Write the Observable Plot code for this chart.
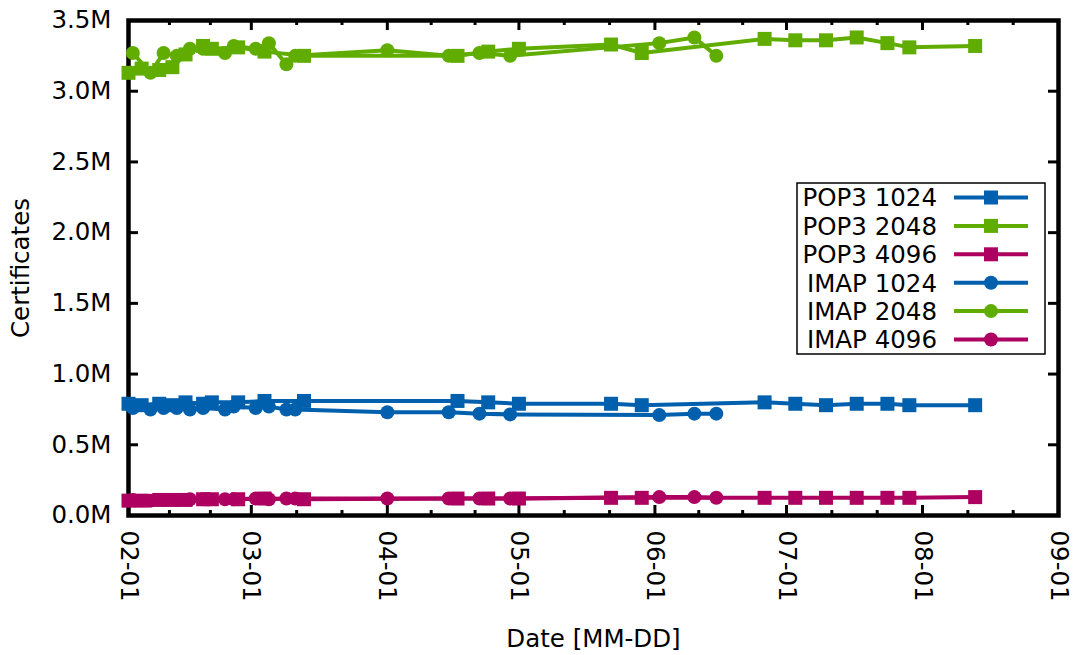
<!DOCTYPE html>
<html><head><meta charset="utf-8">
<script src="https://cdn.jsdelivr.net/npm/d3@7"></script>
<script src="https://cdn.jsdelivr.net/npm/@observablehq/plot@0.6"></script>
<style>
body{margin:0;background:#fff;}
svg{font-family:"DejaVu Sans",sans-serif;}
</style>
</head><body><div id="chart"></div>
<script>
// ---- data ----
const pop3Dates = ["2015-02-01","2015-02-04","2015-02-08","2015-02-11","2015-02-14","2015-02-18","2015-02-20","2015-02-26","2015-03-04","2015-03-13","2015-04-17","2015-04-24","2015-05-01","2015-05-22","2015-05-29","2015-06-26","2015-07-03","2015-07-10","2015-07-17","2015-07-24","2015-07-29","2015-08-13"];
const pop3_1024 = [0.79,0.78,0.79,0.78,0.80,0.79,0.80,0.80,0.81,0.81,0.81,0.80,0.79,0.79,0.78,0.80,0.79,0.78,0.79,0.79,0.78,0.78];
const pop3_2048 = [3.13,3.16,3.15,3.17,3.26,3.32,3.30,3.31,3.28,3.25,3.25,3.28,3.30,3.33,3.27,3.37,3.36,3.36,3.38,3.34,3.31,3.32];
const pop3_4096 = [0.105,0.105,0.11,0.11,0.11,0.115,0.115,0.115,0.12,0.115,0.12,0.12,0.12,0.125,0.125,0.125,0.125,0.125,0.125,0.125,0.125,0.13];
const imapDates = ["2015-02-02","2015-02-06","2015-02-09","2015-02-12","2015-02-15","2015-02-18","2015-02-23","2015-02-25","2015-03-02","2015-03-05","2015-03-09","2015-03-11","2015-04-01","2015-04-15","2015-04-22","2015-04-29","2015-06-02","2015-06-10","2015-06-15"];
const imap_1024 = [0.76,0.75,0.76,0.76,0.75,0.76,0.75,0.77,0.76,0.77,0.75,0.75,0.73,0.73,0.72,0.715,0.71,0.72,0.72];
const imap_2048 = [3.27,3.13,3.27,3.25,3.30,3.30,3.27,3.32,3.30,3.34,3.19,3.25,3.29,3.25,3.27,3.25,3.34,3.38,3.25];
const imap_4096 = [0.11,0.105,0.11,0.11,0.115,0.115,0.115,0.115,0.12,0.115,0.12,0.12,0.12,0.12,0.12,0.12,0.13,0.13,0.125];
const seriesNames = ["POP3 1024","POP3 2048","POP3 4096","IMAP 1024","IMAP 2048","IMAP 4096"];
const monthTickLabels = ["2015-02-01","2015-03-01","2015-04-01","2015-05-01","2015-06-01","2015-07-01","2015-08-01","2015-09-01"];
const yTickValues = [0,0.5,1.0,1.5,2.0,2.5,3.0,3.5];

// ---- styling ----
const colorOf = {"1024":"#0060ad","2048":"#60ad00","4096":"#ad0060"};
const W = 1073, H = 655, mL = 128, mR = 15, mT = 20, mB = 140;
const innerW = W - mL - mR, innerH = H - mT - mB;
const FS = 24.5;

const parse = d3.utcParse("%Y-%m-%d");
const seriesDefs = [
  {name: seriesNames[0], dates: pop3Dates, vals: pop3_1024, bits: "1024", sym: "square"},
  {name: seriesNames[1], dates: pop3Dates, vals: pop3_2048, bits: "2048", sym: "square"},
  {name: seriesNames[2], dates: pop3Dates, vals: pop3_4096, bits: "4096", sym: "square"},
  {name: seriesNames[3], dates: imapDates, vals: imap_1024, bits: "1024", sym: "circle"},
  {name: seriesNames[4], dates: imapDates, vals: imap_2048, bits: "2048", sym: "circle"},
  {name: seriesNames[5], dates: imapDates, vals: imap_4096, bits: "4096", sym: "circle"}
];
seriesDefs.forEach(s => { s.rows = s.dates.map((d, i) => ({date: parse(d), value: s.vals[i] * 1e6})); });

const months = monthTickLabels.map(parse);
const minorTicks = [];
for (let i = 0; i < months.length - 1; i++) {
  const a = +months[i], b = +months[i + 1];
  minorTicks.push(new Date(a + (b - a) / 3), new Date(a + 2 * (b - a) / 3));
}
const yTicks = yTickValues.map(v => v * 1e6);

const dataMarks = [];
for (const s of seriesDefs) {
  const c = colorOf[s.bits];
  dataMarks.push(Plot.line(s.rows, {x: "date", y: "value", stroke: c, strokeWidth: 4}));
  dataMarks.push(Plot.dot(s.rows, {x: "date", y: "value", fill: c, stroke: "none", symbol: s.sym, r: s.sym === "square" ? 7.9 : 7}));
}

const plot = Plot.plot({
  width: W, height: H,
  marginLeft: mL, marginRight: mR, marginTop: mT, marginBottom: mB,
  style: {fontFamily: "DejaVu Sans", fontSize: FS + "px", background: "white", color: "black"},
  x: {type: "utc", domain: [months[0], months[months.length - 1]]},
  y: {domain: [0, 3.5e6]},
  marks: [
    Plot.axisX(months, {tickFormat: d3.utcFormat("%m-%d"), tickSize: 0, tickPadding: 15, tickRotate: 90, fontSize: FS, label: null}),
    Plot.axisY(yTicks, {tickFormat: d => (d / 1e6).toFixed(1) + "M", tickSize: 0, tickPadding: 17, fontSize: FS, label: null}),
    // inward ticks, mirrored on all four sides
    Plot.tickX(months, {x: d => d, insetTop: innerH - 10, stroke: "black", strokeWidth: 3}),
    Plot.tickX(months, {x: d => d, insetBottom: innerH - 10, stroke: "black", strokeWidth: 3}),
    Plot.tickX(minorTicks, {x: d => d, insetTop: innerH - 5, stroke: "black", strokeWidth: 3}),
    Plot.tickX(minorTicks, {x: d => d, insetBottom: innerH - 5, stroke: "black", strokeWidth: 3}),
    Plot.tickY(yTicks, {y: d => d, insetRight: innerW - 10, stroke: "black", strokeWidth: 3}),
    Plot.tickY(yTicks, {y: d => d, insetLeft: innerW - 10, stroke: "black", strokeWidth: 3}),
    Plot.frame({stroke: "black", strokeWidth: 4.5}),
    Plot.text(["Certificates"], {text: d => d, frameAnchor: "left", textAnchor: "middle", lineAnchor: "middle", dx: -107, rotate: -90, fontSize: FS, fill: "black"}),
    Plot.text(["Date [MM-DD]"], {text: d => d, frameAnchor: "bottom", lineAnchor: "middle", dy: 124, fontSize: FS, fill: "black"}),
    ...dataMarks
  ]
});
document.getElementById("chart").appendChild(plot);

// ---- legend (inside the plot frame) ----
const svg = d3.select(plot);
const lg = svg.append("g").attr("class", "legend");
const lx = 797, ly = 183, lw = 248, lh = 171, rowY0 = 197.5, rowStep = 28.4;
lg.append("rect").attr("x", lx).attr("y", ly).attr("width", lw).attr("height", lh)
  .attr("fill", "white").attr("stroke", "black").attr("stroke-width", 1.5);
seriesDefs.forEach((s, i) => {
  const y = rowY0 + i * rowStep, c = colorOf[s.bits];
  lg.append("text").attr("x", 937).attr("y", y).attr("dy", "0.36em")
    .attr("text-anchor", "end").attr("font-size", FS).attr("fill", "black").text(s.name);
  lg.append("line").attr("x1", 954).attr("x2", 1028).attr("y1", y).attr("y2", y)
    .attr("stroke", c).attr("stroke-width", 4);
  if (s.sym === "square") {
    lg.append("rect").attr("x", 991 - 7).attr("y", y - 7).attr("width", 14).attr("height", 14).attr("fill", c);
  } else {
    lg.append("circle").attr("cx", 991).attr("cy", y).attr("r", 7).attr("fill", c);
  }
});
</script>
</body></html>
